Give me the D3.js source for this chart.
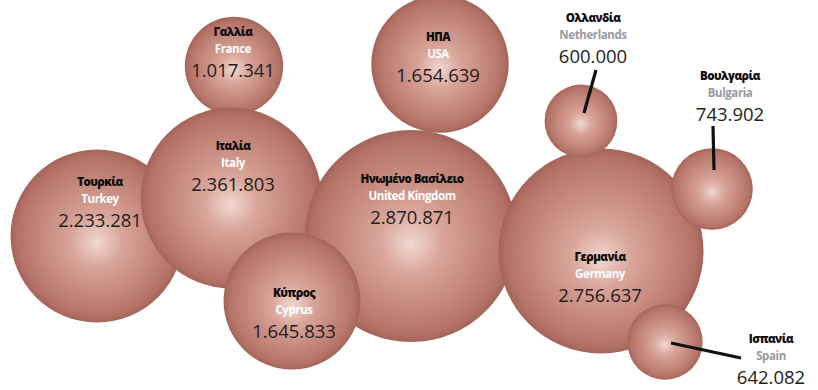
<!DOCTYPE html>
<html>
<head>
<meta charset="utf-8">
<script src="https://cdn.jsdelivr.net/npm/d3@7"></script>
<style>
  html, body { margin: 0; padding: 0; background: #fff; }
  svg { display: block; }
</style>
</head>
<body>
<div id="chart"></div>
<script>
// ---- data ----
const namesEl = ["Τουρκία", "Γαλλία", "Ιταλία", "Ηνωμένο Βασίλειο", "ΗΠΑ", "Κύπρος", "Γερμανία", "Ολλανδία", "Βουλγαρία", "Ισπανία"];
const namesEn = ["Turkey", "France", "Italy", "United Kingdom", "USA", "Cyprus", "Germany", "Netherlands", "Bulgaria", "Spain"];
const values  = [2233281, 1017341, 2361803, 2870871, 1654639, 1645833, 2756637, 600000, 743902, 642082];

// ---- layout (hand placement of the reference) ----
const centers = [[97,236],[234,66],[231,198],[411,236],[440,64],[292,301],[601,251],[581,121],[712,189],[665,342]];
// label anchor: [x, baseline of first line, outside bubble?]
const labelPos = [[100,186,false],[233,36,false],[233,150,false],[412,183,false],[438,41,false],[294,297,false],[600,261,false],[593,22,true],[730,80,true],[771,343,true]];
const leaders = {7: [[596,70],[584,113]], 8: [[713,126],[714,170]], 9: [[671,343],[741,358]]};

const W = 818, H = 390;
const svg = d3.select("#chart").append("svg").attr("width", W).attr("height", H);

const defs = svg.append("defs");
const grad = defs.append("radialGradient").attr("id", "bub")
  .attr("cx", "50%").attr("cy", "50%").attr("r", "50%")
  .attr("fx", "50%").attr("fy", "54%");
[[0, "#f1d8d1"], [0.3, "#d9a59a"], [0.7, "#c28479"], [0.92, "#b47266"], [1, "#a4645a"]]
  .forEach(([o, c]) => grad.append("stop").attr("offset", o).attr("stop-color", c));

const r = d3.scaleLinear().domain([0, d3.max(values)]).range([18, 106]);

const data = values.map((v, i) => ({ v, i, el: namesEl[i], en: namesEn[i], c: centers[i], lp: labelPos[i] }));

svg.append("g").selectAll("circle").data(data).join("circle")
  .attr("cx", d => d.c[0]).attr("cy", d => d.c[1])
  .attr("r", d => r(d.v))
  .attr("fill", "url(#bub)");

// leader lines
Object.entries(leaders).forEach(([i, pts]) => {
  svg.append("line")
    .attr("x1", pts[0][0]).attr("y1", pts[0][1])
    .attr("x2", pts[1][0]).attr("y2", pts[1][1])
    .attr("stroke", "#111").attr("stroke-width", 3.2).attr("stroke-linecap", "butt");
});

const fmt = v => d3.format(",")(v).replace(/,/g, ".");

const lab = svg.append("g").selectAll("g").data(data).join("g")
  .attr("transform", d => `translate(${d.lp[0]},${d.lp[1]})`)
  .attr("text-anchor", "middle");

lab.append("text")
  .attr("y", 0)
  .attr("font-family", "'Open Sans', sans-serif")
  .attr("font-weight", 800)
  .attr("font-size", 11.5)
  .attr("letter-spacing", -0.6)
  .attr("fill", "#0e0b0b")
  .text(d => d.el);

lab.append("text")
  .attr("y", 17)
  .attr("font-family", "'Open Sans', sans-serif")
  .attr("font-weight", 700)
  .attr("font-size", 11.5)
  .attr("letter-spacing", -0.4)
  .attr("fill", d => d.lp[2] ? "#9a9aa2" : "#ffffff")
  .text(d => d.en);

lab.append("text")
  .attr("y", 41)
  .attr("font-family", "'Open Sans', sans-serif")
  .attr("font-weight", 500)
  .attr("font-size", 18.5)
  .attr("fill", "#231d1b")
  .text(d => fmt(d.v));
</script>
</body>
</html>
